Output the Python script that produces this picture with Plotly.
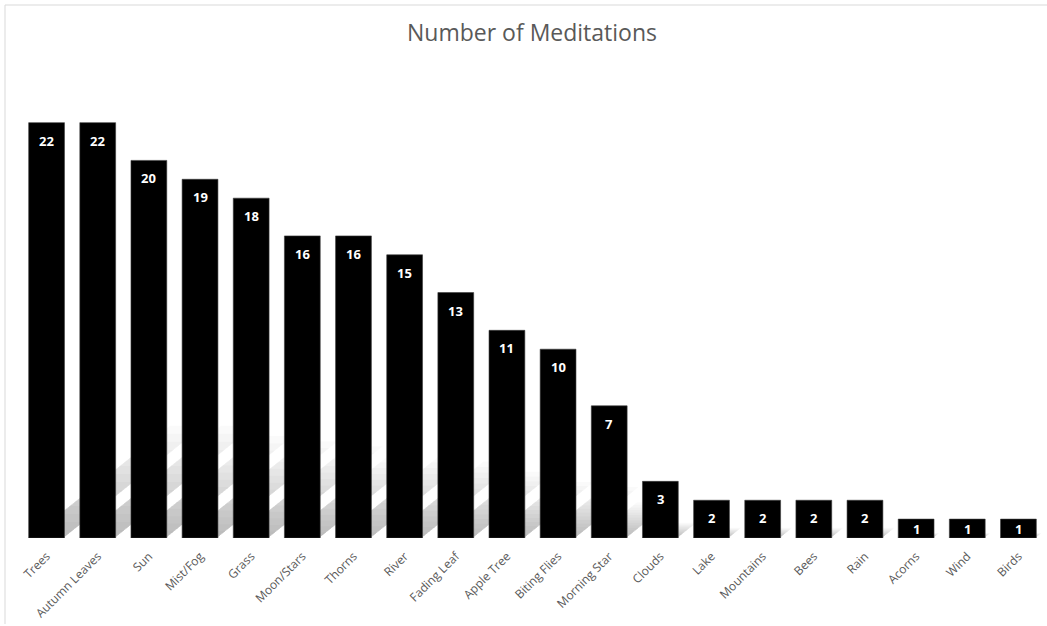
import plotly.graph_objects as go

categories = ["Trees", "Autumn Leaves", "Sun", "Mist/Fog", "Grass", "Moon/Stars", "Thorns",
              "River", "Fading Leaf", "Apple Tree", "Biting Flies", "Morning Star", "Clouds",
              "Lake", "Mountains", "Bees", "Rain", "Acorns", "Wind", "Birds"]
meditations = [22, 22, 20, 19, 18, 16, 16, 15, 13, 11, 10, 7, 3, 2, 2, 2, 2, 1, 1, 1]

W, H = 1047, 626
M_L, M_R, M_T, M_B = 21, 3, 66, 88
Y_MAX = 25
BAR_GAP = 0.3
FONT = "Open Sans, Liberation Sans, sans-serif"
px_per_unit = (H - M_T - M_B) / Y_MAX
px_per_cat = (W - M_L - M_R) / len(categories)

fig = go.Figure()
fig.add_trace(go.Bar(
    x=list(range(len(categories))),
    y=meditations,
    marker=dict(color="#000000", line=dict(color="#3a3a3a", width=0.6)),
    hoverinfo="x+y",
))

# skewed perspective shadows cast up and to the right, fading with height
SHADOW_SCALE = 0.27   # shadow height relative to bar height
SHADOW_SKEW = 1.25    # horizontal shift (px) per px of shadow height
N_LAYERS = 14
half = (1 - BAR_GAP) / 2
for i, v in enumerate(meditations):
    full_h = SHADOW_SCALE * v
    for k in range(N_LAYERS):
        h = full_h * (N_LAYERS - k) / N_LAYERS
        dx = SHADOW_SKEW * h * px_per_unit / px_per_cat
        x0, x1 = i - half + 0.02, i + half - 0.02
        path = f"M {x0},0 L {x1},0 L {x1 + dx},{h} L {x0 + dx},{h} Z"
        fig.add_shape(type="path", path=path, xref="x", yref="y",
                      fillcolor="#000000", opacity=0.019, line=dict(width=0), layer="below")

# value labels near the top of each bar
for i, v in enumerate(meditations):
    shift = min(18, v * px_per_unit / 2)
    fig.add_annotation(x=i, y=v, text=f"<b>{v}</b>", showarrow=False,
                       yanchor="middle", yshift=-shift,
                       font=dict(family=FONT, size=13, color="white"))

# chart frame
fx = -(M_L - 5) / (W - M_L - M_R)
fy_top = 1 + (M_T - 5) / (H - M_T - M_B)
fig.add_shape(type="line", xref="paper", yref="paper",
              x0=fx, x1=fx, y0=-(M_B - 2) / (H - M_T - M_B), y1=fy_top,
              line=dict(color="#d9d9d9", width=1))
fig.add_shape(type="line", xref="paper", yref="paper",
              x0=fx, x1=1.01, y0=fy_top, y1=fy_top,
              line=dict(color="#d9d9d9", width=1))

fig.update_layout(
    width=W, height=H,
    margin=dict(l=M_L, r=M_R, t=M_T, b=M_B),
    paper_bgcolor="white", plot_bgcolor="white",
    bargap=BAR_GAP,
    showlegend=False,
    title=dict(text="Number of Meditations", x=532 / W, xanchor="center", y=1 - 33 / H, yanchor="middle",
               font=dict(family=FONT, size=23, color="#595959")),
    xaxis=dict(tickmode="array", tickvals=list(range(len(categories))), ticktext=categories,
               tickangle=-45, showgrid=False, zeroline=False, showline=False, ticks="",
               ticklabelstandoff=8,
               range=[-0.5, len(categories) - 0.5],
               tickfont=dict(family=FONT, size=12, color="#595959")),
    yaxis=dict(range=[0, Y_MAX], visible=False, showgrid=False, zeroline=False),
)

fig.write_html("out.html")
